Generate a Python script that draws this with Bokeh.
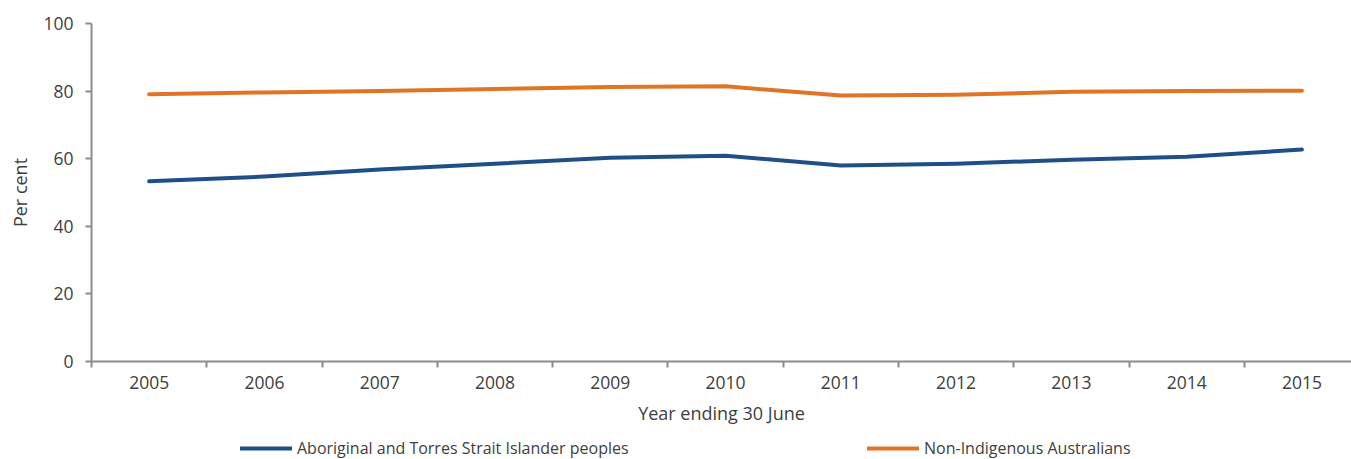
from bokeh.plotting import figure
from bokeh.layouts import column
from bokeh.models import Range1d, FixedTicker, Legend, LegendItem, ColumnDataSource
from bokeh.embed import file_html
from bokeh.resources import INLINE

# ---- data ----
years = [2005, 2006, 2007, 2008, 2009, 2010, 2011, 2012, 2013, 2014, 2015]
indigenous = [53.3, 54.7, 56.8, 58.5, 60.3, 60.9, 58.0, 58.5, 59.7, 60.6, 62.7]
non_indigenous = [79.1, 79.6, 80.0, 80.6, 81.2, 81.4, 78.7, 78.9, 79.8, 80.0, 80.1]
y_ticks = [0, 20, 40, 60, 80, 100]
series_names = ["Aboriginal and Torres Strait Islander peoples", "Non-Indigenous Australians"]
x_title = "Year ending 30 June"
y_title = "Per cent"

BLUE = "#1F4E89"
ORANGE = "#E07528"
AXIS = "#8C8C8C"
TEXT = "#404040"
FONT = "Open Sans"

src = ColumnDataSource(data=dict(year=years, ind=indigenous, non=non_indigenous))

p = figure(width=1351, height=437, output_backend="svg", toolbar_location=None,
           x_range=Range1d(2004.5, 2015.43), y_range=Range1d(0, 100),
           min_border_left=91, min_border_top=23, min_border_right=0, min_border_bottom=76)
p.outline_line_color = None
p.grid.visible = False
p.background_fill_color = "white"
p.border_fill_color = "white"

r1 = p.line("year", "ind", source=src, line_color=BLUE, line_width=4, line_cap="round", line_join="round")
r2 = p.line("year", "non", source=src, line_color=ORANGE, line_width=4, line_cap="round", line_join="round")

# x axis
xa = p.xaxis[0]
xa.ticker = FixedTicker(ticks=years, minor_ticks=[y - 0.5 for y in years] + [years[-1] + 0.5])
xa.major_tick_out = 0
xa.major_tick_in = 0
xa.minor_tick_out = 6
xa.minor_tick_in = 0
xa.minor_tick_line_color = AXIS
xa.minor_tick_line_width = 2
xa.axis_line_color = AXIS
xa.axis_line_width = 2
xa.major_label_standoff = 8
xa.axis_label = x_title
xa.axis_label_standoff = 9
xa.axis_label_text_font_style = "normal"

# y axis
ya = p.yaxis[0]
ya.ticker = FixedTicker(ticks=y_ticks)
ya.minor_tick_line_color = None
ya.major_tick_out = 6
ya.major_tick_in = 0
ya.major_tick_line_color = AXIS
ya.major_tick_line_width = 2
ya.axis_line_color = AXIS
ya.axis_line_width = 2
ya.major_label_standoff = 12
ya.axis_label = y_title
ya.axis_label_standoff = 8
ya.axis_label_text_font_style = "normal"

for ax in (xa, ya):
    ax.major_label_text_font = FONT
    ax.major_label_text_font_size = "17.5px"
    ax.major_label_text_color = TEXT
    ax.axis_label_text_font = FONT
    ax.axis_label_text_font_size = "18px"
    ax.axis_label_text_color = TEXT

# ---- legend strip (a second figure; its lines fall outside its own range) ----
p2 = figure(width=1351, height=22, output_backend="svg", toolbar_location=None,
            x_axis_location=None, y_axis_location=None,
            x_range=Range1d(0, 1), y_range=Range1d(0, 1),
            min_border=0, min_border_left=0, min_border_right=0, min_border_top=0, min_border_bottom=0)
p2.outline_line_color = None
p2.grid.visible = False
p2.background_fill_color = "white"
p2.border_fill_color = "white"
d1 = p2.line("year", "ind", source=src, line_color=BLUE, line_width=4, line_cap="round")
d2 = p2.line("year", "non", source=src, line_color=ORANGE, line_width=4, line_cap="round")

def make_legend(label, rend, loc):
    return Legend(items=[LegendItem(label=label, renderers=[rend])], location=loc,
                  glyph_width=52, glyph_height=22, label_standoff=5, padding=0, margin=0,
                  border_line_color=None, background_fill_alpha=0,
                  label_text_font=FONT, label_text_font_size="16px", label_text_color=TEXT,
                  label_height=22)

p2.add_layout(make_legend(series_names[0], d1, (149, 0)))
p2.add_layout(make_legend(series_names[1], d2, (776, 0)))

layout = column(p, p2, spacing=0)
open("out.html", "w").write(file_html(layout, INLINE))
